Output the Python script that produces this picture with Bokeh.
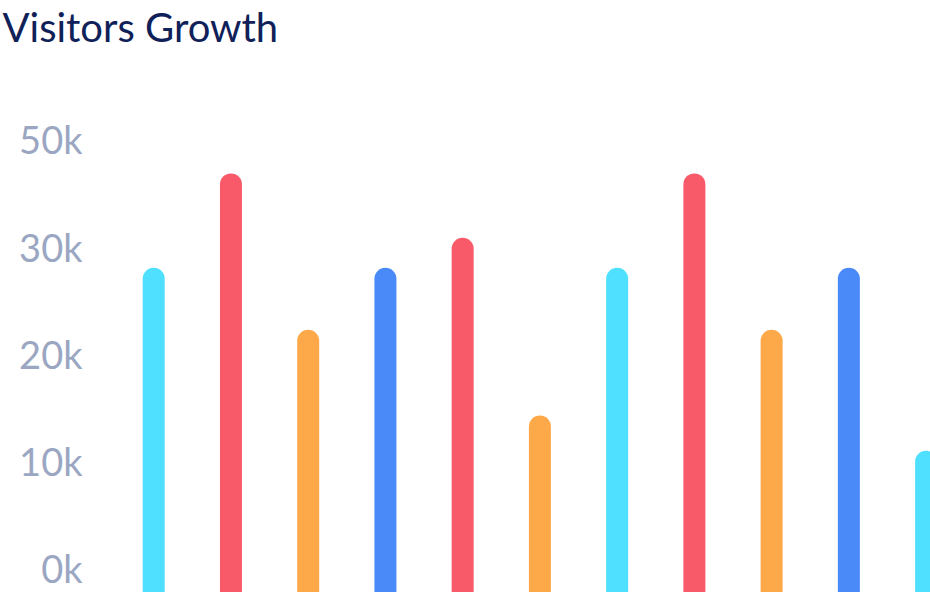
from bokeh.plotting import figure
from bokeh.models import Range1d, ColumnDataSource, FixedTicker
from bokeh.embed import file_html
from bokeh.resources import INLINE

# ---- data ----
chart_title = "Visitors Growth"
slots = list(range(11))
visitors = [27000, 35800, 21200, 27000, 29800, 13200, 27000, 35800, 21200, 27000, 9900]
bar_colors = ["#4FE0FF", "#F95A6A", "#FDA94A", "#4A89F8", "#F95A6A", "#FDA94A",
              "#4FE0FF", "#F95A6A", "#FDA94A", "#4A89F8", "#4FE0FF"]
tick_values = [0, 10000, 20000, 30000, 40000]
tick_labels = ["0k", "10k", "20k", "30k", "50k"]

src = ColumnDataSource(dict(x=slots, v=visitors, c=bar_colors))

p = figure(width=930, height=592, output_backend="svg", toolbar_location=None,
           x_range=Range1d(-0.689, 10.057), y_range=Range1d(-2300, 48300),
           min_border_left=100, min_border_right=0, min_border_top=48, min_border_bottom=0,
           title=chart_title)

p.segment(x0="x", y0=p.y_range.start, x1="x", y1="v", source=src,
          line_color="c", line_width=22, line_cap="round")

p.title.text_font = "Lato"
p.title.text_font_size = "40px"
p.title.text_font_style = "normal"
p.title.text_color = "#0F2158"
p.title.align = "left"
p.title.standoff = 0
p.title.offset = -98

p.xaxis.visible = False
ya = p.yaxis[0]
ya.ticker = FixedTicker(ticks=tick_values)
ya.major_label_overrides = dict(zip(tick_values, tick_labels))
ya.major_label_text_font = "Lato"
ya.major_label_text_font_size = "38px"
ya.major_label_text_color = "#9BA7C2"
ya.major_label_standoff = 18
ya.major_tick_out = 0
ya.major_tick_in = 0
ya.axis_line_color = None
ya.major_tick_line_color = None
ya.minor_tick_line_color = None

p.grid.visible = False
p.outline_line_color = None
p.background_fill_color = "white"
p.border_fill_color = "white"

open("out.html", "w").write(file_html(p, INLINE))
